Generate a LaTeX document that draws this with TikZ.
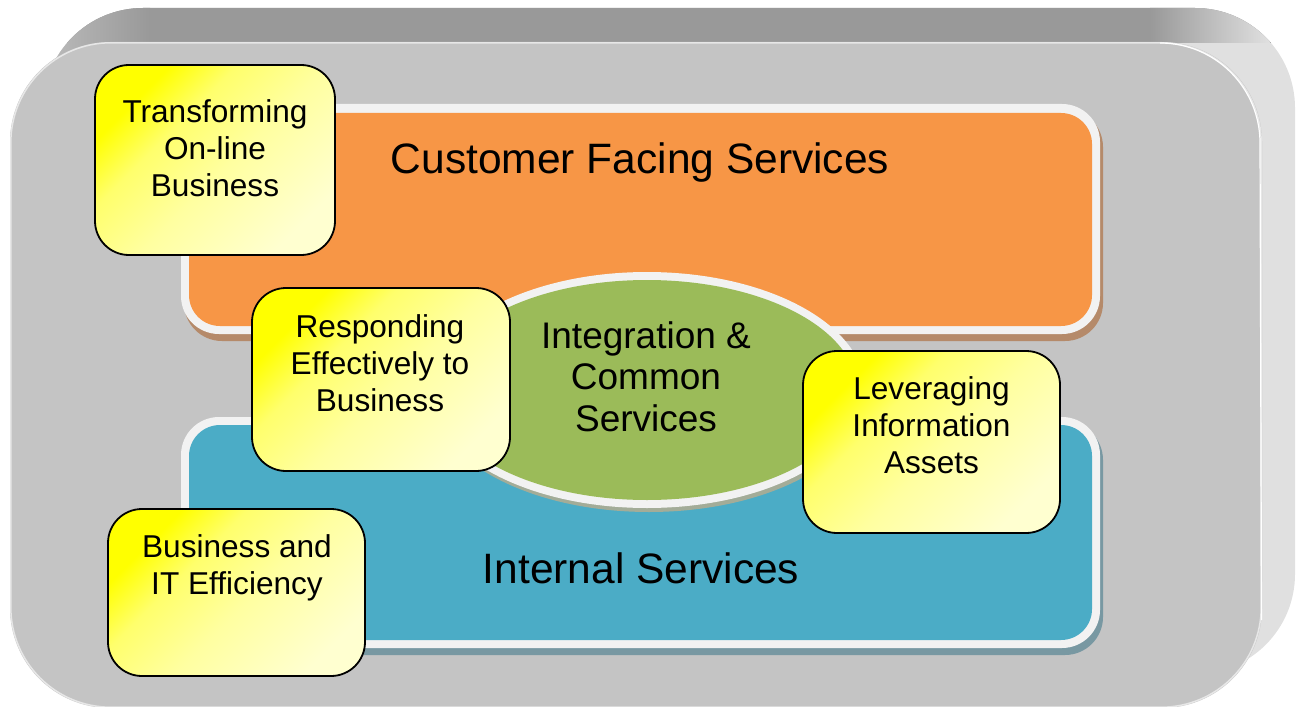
\documentclass[tikz,border=0pt]{standalone}
\usepackage{fontspec}
\setmainfont{Liberation Sans}
\definecolor{frontgray}{HTML}{C4C4C4}
\definecolor{topgray}{HTML}{999999}
\definecolor{sidegray}{HTML}{E0E0E0}
\definecolor{edgewhite}{HTML}{F2F2F2}
\definecolor{orangefill}{HTML}{F79646}
\definecolor{orangeshadow}{HTML}{B58A6A}
\definecolor{bluefill}{HTML}{4BACC6}
\definecolor{blueshadow}{HTML}{7898A2}
\definecolor{greenfill}{HTML}{9BBB59}
\definecolor{greenshadow}{HTML}{A3AC98}
\definecolor{ytop}{HTML}{FFFF00}
\definecolor{yhigh}{HTML}{FFFF6C}
\definecolor{ymid}{HTML}{FFFFA0}
\definecolor{ybot}{HTML}{FFFFD0}
\pgfdeclareverticalshading{yellowglow}{100bp}{color(0bp)=(ybot); color(25bp)=(ybot); color(47bp)=(ymid); color(62bp)=(yhigh); color(73bp)=(ytop); color(100bp)=(ytop)}
\begin{document}
\begin{tikzpicture}[x=1pt,y=-1pt,
  ybox/.style={draw=black, line width=1.8pt, rounded corners=34pt, rectangle,
    inner sep=0pt, shade, shading=yellowglow, shading angle=45},
  ytext/.style={align=center, inner sep=0pt, anchor=base, font=\fontsize{31.6}{37}\selectfont},
  etext/.style={align=center, inner sep=0pt, anchor=base, font=\fontsize{37}{41.5}\selectfont},
  ttext/.style={inner sep=0pt, anchor=base, font=\fontsize{42.5}{48}\selectfont},
  whiteedge/.style={fill=edgewhite},
]
\useasboundingbox (0,0) rectangle (1297,706);
\begin{scope}
\clip (0,0) rectangle (1297,706);
% back (extruded) shape
\fill[sidegray, rounded corners=100pt] (43,8) rectangle (1295,674);
\begin{scope}
\clip[rounded corners=100pt] (43,8) rectangle (1295,674);
\fill[topgray] (0,0) rectangle (1297,43);
\shade[left color=sidegray!90!black, right color=topgray] (0,0) rectangle (150,150);
\shade[left color=topgray, right color=sidegray] (1150,0) rectangle (1270,43);
\end{scope}
% front face
\fill[frontgray, rounded corners=100pt] (10,42) rectangle (1262,708);
\draw[white!60!frontgray, line width=1.5pt, rounded corners=100pt] (10.8,42.8) rectangle (1261.2,707.2);
\draw[white, line width=1.2pt] (1160,43) arc[start angle=90, end angle=0, radius=100pt] -- (1261.5,620);
% orange: customer facing
\fill[orangeshadow, rounded corners=38pt] (184,109) rectangle (1103,341);
\fill[whiteedge, rounded corners=38pt] (181,104) rectangle (1100,334);
\fill[orangefill, rounded corners=31pt] (189,113) rectangle (1092,326);
% blue: internal
\fill[blueshadow, rounded corners=38pt] (184,422) rectangle (1103,655);
\fill[whiteedge, rounded corners=38pt] (181,417) rectangle (1100,648);
\fill[bluefill, rounded corners=31pt] (189,425) rectangle (1092,640);
% ellipse
\fill[greenshadow] (649,394) ellipse[x radius=218, y radius=118];
\fill[whiteedge] (647,390) ellipse[x radius=218, y radius=118];
\fill[greenfill] (647,390) ellipse[x radius=210, y radius=110];
\end{scope}
% titles
\node[ttext] (cfs) at (640,173) {Customer Facing Services};
\node[ttext] (ins) at (641,583) {Internal Services};
\node[etext] (ics) at (646,431) {Integration \&\\Common\\Services};
% yellow boxes
\node[ybox, minimum width=240pt, minimum height=190pt] (b1) at (215,160) {};
\node[ytext] (b1t) at (215,196) {Transforming\\On-line\\Business};
\node[ybox, minimum width=258pt, minimum height=183pt] (b2) at (381,379.5) {};
\node[ytext] (b2t) at (380,411) {Responding\\Effectively to\\Business};
\node[ybox, minimum width=257pt, minimum height=182pt] (b3) at (931.5,442) {};
\node[ytext] (b3t) at (931.5,473) {Leveraging\\Information\\Assets};
\node[ybox, minimum width=257pt, minimum height=167pt] (b4) at (236.5,592.5) {};
\node[ytext] (b4t) at (237,594) {Business and\\IT Efficiency};
\end{tikzpicture}
\end{document}
